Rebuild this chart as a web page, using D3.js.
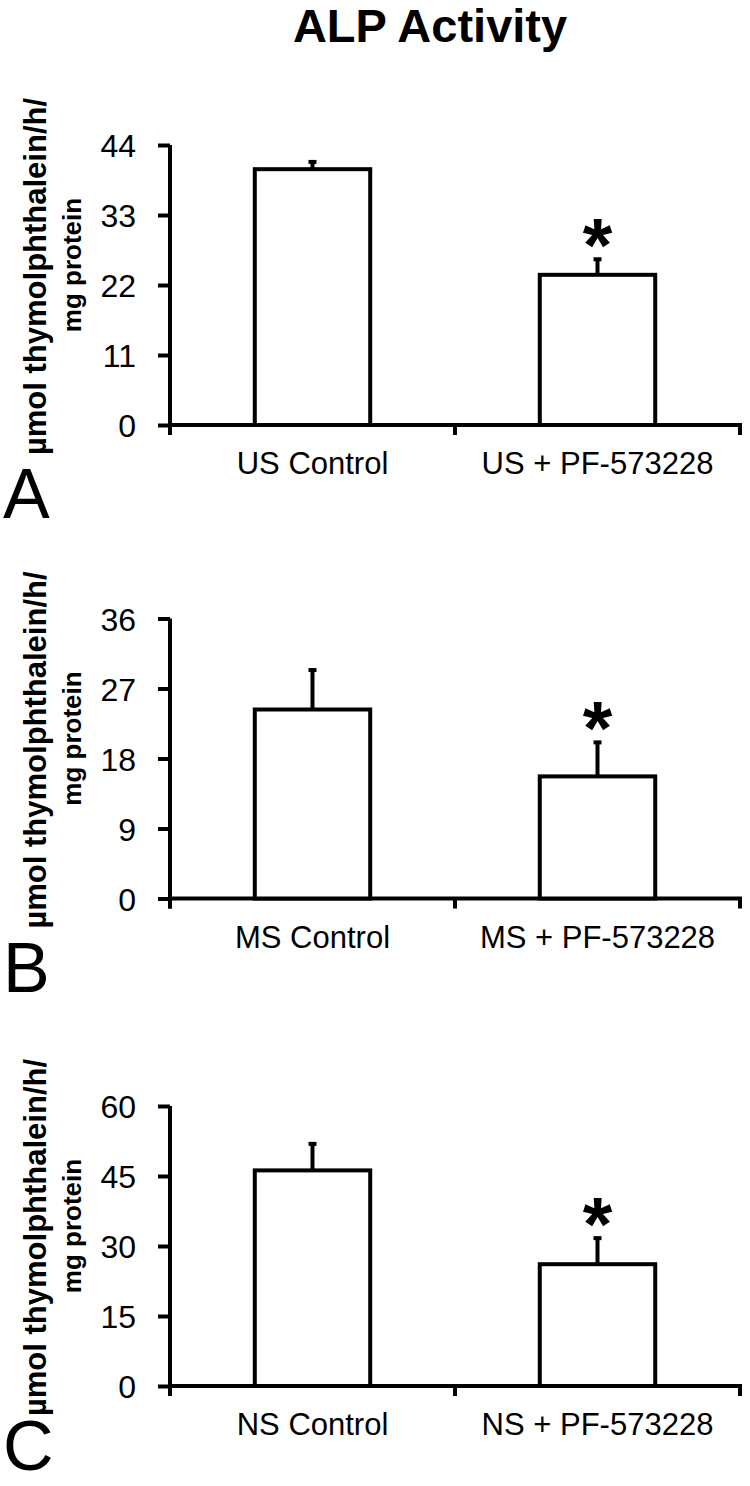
<!DOCTYPE html>
<html>
<head>
<meta charset="utf-8">
<script src="https://cdn.jsdelivr.net/npm/d3@7"></script>
<style>
  body { margin: 0; background: #fff; }
  svg text { font-family: Arial, "Liberation Sans", Helvetica, sans-serif; fill: #000; }
</style>
</head>
<body>
<div id="chart"></div>
<script>
// data
var panelLetters = ["A", "B", "C"];
var groupsA = ["US Control", "US + PF-573228"];
var groupsB = ["MS Control", "MS + PF-573228"];
var groupsC = ["NS Control", "NS + PF-573228"];
var meansA = [40.2, 23.6], errA = [1.3, 2.6];
var meansB = [24.3, 15.7], errB = [5.2, 4.5];
var meansC = [46.2, 26.1], errC = [5.9, 5.8];
var ticksA = [0, 11, 22, 33, 44];
var ticksB = [0, 9, 18, 27, 36];
var ticksC = [0, 15, 30, 45, 60];
var signif = [false, true]; // asterisk on second bar
var yTitle = ["\u00b5mol thymolphthalein/h/", "mg protein"];

var FONT = "Arial, 'Liberation Sans', Helvetica, sans-serif";
var W = 750, H = 1486;
var svg = d3.select("#chart").append("svg")
    .attr("width", W)
    .attr("height", H);

// title
svg.append("text")
    .attr("x", 430)
    .attr("y", 42)
    .attr("text-anchor", "middle")
    .style("font-family", FONT)
    .style("font-size", "47px")
    .style("font-weight", "bold")
    .text("ALP Activity");

var panels = [
  {letter: panelLetters[0], groups: groupsA, means: meansA, errs: errA, ticks: ticksA, top: 145},
  {letter: panelLetters[1], groups: groupsB, means: meansB, errs: errB, ticks: ticksB, top: 618.5},
  {letter: panelLetters[2], groups: groupsC, means: meansC, errs: errC, ticks: ticksC, top: 1106}
];

var plotH = 280, left = 170, right = 740;

panels.forEach(function(p) {
  var bottom = p.top + plotH;
  var g = svg.append("g");

  var x = d3.scaleBand()
      .domain(p.groups)
      .range([left, right]);

  var y = d3.scaleLinear()
      .domain([0, d3.max(p.ticks)])
      .range([bottom, p.top]);

  var barW = x.bandwidth() * 0.405;

  // y axis
  var yAxis = g.append("g")
      .attr("transform", "translate(" + left + ",0)")
      .call(d3.axisLeft(y).tickValues(p.ticks).tickSize(12).tickSizeOuter(0).tickPadding(22));
  yAxis.select(".domain").attr("stroke", "#000").attr("stroke-width", 4)
      .attr("d", "M0," + y(d3.max(p.ticks)) + "V" + (bottom + 10));
  yAxis.selectAll(".tick line").attr("stroke", "#000").attr("stroke-width", 4);
  yAxis.selectAll(".tick text")
      .style("font-size", "32px")
      .style("font-family", FONT)
      .attr("dy", "0.36em");

  // x axis
  var xAxis = g.append("g")
      .attr("transform", "translate(0," + bottom + ")")
      .call(d3.axisBottom(x).tickSize(0).tickSizeOuter(0).tickPadding(27));
  xAxis.select(".domain").attr("stroke", "#000").attr("stroke-width", 4)
      .attr("d", "M" + left + ",0H" + (right + 2));
  xAxis.selectAll(".tick text")
      .style("font-size", "31px")
      .style("font-family", FONT);

  // boundary ticks between groups
  var edges = [x(p.groups[0]), x(p.groups[1]), x(p.groups[1]) + x.bandwidth()];
  g.selectAll(".edge")
      .data(edges)
      .enter().append("line")
      .attr("x1", function(d) { return d; })
      .attr("x2", function(d) { return d; })
      .attr("y1", bottom)
      .attr("y2", bottom + 10)
      .attr("stroke", "#000")
      .attr("stroke-width", 4);

  var rows = p.groups.map(function(k, i) {
    return {group: k, mean: p.means[i], err: p.errs[i], star: signif[i]};
  });

  // error bars (drawn first so bar outline sits over the stem)
  var cx = function(d) { return x(d.group) + x.bandwidth() / 2; };
  g.selectAll(".err")
      .data(rows)
      .enter().append("line")
      .attr("x1", cx).attr("x2", cx)
      .attr("y1", function(d) { return y(d.mean); })
      .attr("y2", function(d) { return y(d.mean + d.err); })
      .attr("stroke", "#000")
      .attr("stroke-width", 4);
  g.selectAll(".cap")
      .data(rows)
      .enter().append("line")
      .attr("x1", function(d) { return cx(d) - 4; })
      .attr("x2", function(d) { return cx(d) + 4; })
      .attr("y1", function(d) { return y(d.mean + d.err) + 1; })
      .attr("y2", function(d) { return y(d.mean + d.err) + 1; })
      .attr("stroke", "#000")
      .attr("stroke-width", 4);

  // bars
  g.selectAll(".bar")
      .data(rows)
      .enter().append("rect")
      .attr("x", function(d) { return cx(d) - barW / 2; })
      .attr("y", function(d) { return y(d.mean); })
      .attr("width", barW)
      .attr("height", function(d) { return bottom - y(d.mean); })
      .attr("fill", "#fff")
      .attr("stroke", "#000")
      .attr("stroke-width", 4);

  // significance asterisk
  g.selectAll(".star")
      .data(rows.filter(function(d) { return d.star; }))
      .enter().append("text")
      .attr("x", cx)
      .attr("y", function(d) { return y(d.mean + d.err) + 13; })
      .attr("text-anchor", "middle")
      .style("font-family", FONT)
      .style("font-size", "76px")
      .style("font-weight", "bold")
      .text("*");

  // y axis title, two lines
  g.append("text")
      .attr("transform", "translate(46," + (p.top + 131.5) + ") rotate(-90)")
      .attr("text-anchor", "middle")
      .style("font-family", FONT)
      .style("font-size", "31px")
      .style("font-weight", "bold")
      .text(yTitle[0]);
  g.append("text")
      .attr("transform", "translate(81," + (p.top + 120) + ") rotate(-90)")
      .attr("text-anchor", "middle")
      .style("font-family", FONT)
      .style("font-size", "26px")
      .style("font-weight", "bold")
      .text(yTitle[1]);

  // panel letter
  g.append("text")
      .attr("x", 3)
      .attr("y", Math.min(bottom + 93, H - 16))
      .style("font-family", FONT)
      .style("font-size", "70px")
      .text(p.letter);
});
</script>
</body>
</html>
